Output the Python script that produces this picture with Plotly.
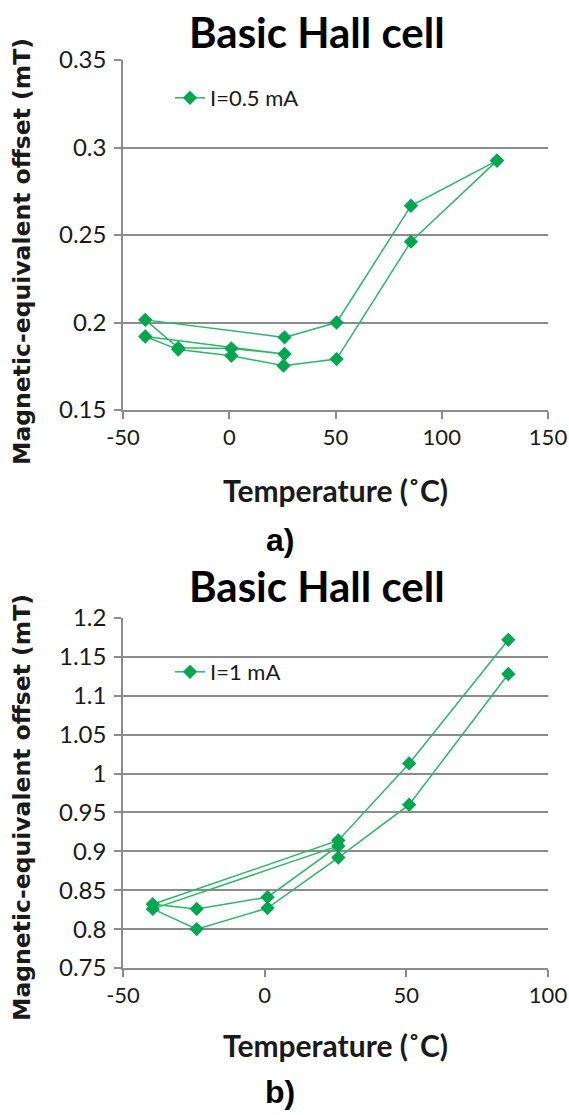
import plotly.graph_objects as go

# browser window size; the page margin is removed so the figure fills it exactly
W, H = 569, 1115

temp_a = [126, 85.5, 50.5, 26, -39.5, -24, 1, 26, -39.5, -24, 1, 25.5, 50.5, 85.5, 126]
offset_a = [0.2925, 0.2667, 0.2, 0.1915, 0.2015, 0.1855, 0.1852, 0.182, 0.192, 0.1845, 0.181, 0.1753, 0.1791, 0.2462, 0.2925]
name_a = "I=0.5 mA"

temp_b = [86, 51, 26, -39.5, -24, 1, 26, -39.5, -24, 1, 26, 51, 86]
offset_b = [1.172, 1.013, 0.914, 0.832, 0.826, 0.841, 0.907, 0.826, 0.800, 0.827, 0.892, 0.960, 1.128]
name_b = "I=1 mA"

xticks_a = [-50, 0, 50, 100, 150]
xlabels_a = ["-50", "0", "50", "100", "150"]
xticks_b = [-50, 0, 50, 100]
xlabels_b = ["-50", "0", "50", "100"]
yticks_a = [0.15, 0.2, 0.25, 0.3, 0.35]
ylabels_a = ["0.15", "0.2", "0.25", "0.3", "0.35"]
yticks_b = [0.75, 0.8, 0.85, 0.9, 0.95, 1.0, 1.05, 1.1, 1.15, 1.2]
ylabels_b = ["0.75", "0.8", "0.85", "0.9", "0.95", "1", "1.05", "1.1", "1.15", "1.2"]

title_text = "Basic Hall cell"
ytitle_text = "Magnetic-equivalent offset (mT)"
xtitle_text = "Temperature (˚C)"

# ---- style ----
LINE = "#2cb766"
MARK = "#00a651"
GRID = "#8c8c8c"
TXT = "#1a1a1a"
FONT = "Lato"


def px(x):
    return x / W


def py(y):
    return (H - y) / H


fig = go.Figure()
fig.add_trace(go.Scatter(
    x=temp_a, y=offset_a, mode="lines+markers", name=name_a,
    xaxis="x", yaxis="y", legend="legend",
    line=dict(color=LINE, width=1.5),
    marker=dict(symbol="diamond", size=11, color=MARK),
))
fig.add_trace(go.Scatter(
    x=temp_b, y=offset_b, mode="lines+markers", name=name_b,
    xaxis="x2", yaxis="y2", legend="legend2",
    line=dict(color=LINE, width=1.5),
    marker=dict(symbol="diamond", size=11, color=MARK),
))

common_x = dict(showgrid=False, zeroline=False, showline=True, linecolor=GRID, linewidth=1.5,
                ticks="outside", ticklen=7, tickwidth=1.5, tickcolor=GRID, automargin=False,
                ticklabeloverflow="allow",
                tickfont=dict(family=FONT, size=22, color=TXT), mirror=False)
common_y = dict(showgrid=True, gridcolor=GRID, gridwidth=1.5, zeroline=False, showline=True,
                linecolor=GRID, linewidth=1.5, ticks="outside", ticklen=7, tickwidth=1.5,
                tickcolor=GRID, tickfont=dict(family=FONT, size=24, color=TXT),
                ticklabelstandoff=3, automargin=False, ticklabeloverflow="allow")

x0, x1 = px(123), px(548)

fig.update_layout(
    template="none",
    width=W, height=H, margin=dict(l=0, r=0, t=0, b=0, pad=0),
    paper_bgcolor="white", plot_bgcolor="white",
    xaxis=dict(domain=[x0, x1], anchor="y", range=[-50, 150], tickvals=xticks_a,
               ticktext=xlabels_a, **common_x),
    yaxis=dict(domain=[py(410), py(60)], anchor="x", range=[0.15, 0.35], tickvals=yticks_a,
               ticktext=ylabels_a, **common_y),
    xaxis2=dict(domain=[x0, x1], anchor="y2", range=[-50, 100], tickvals=xticks_b,
                ticktext=xlabels_b, **common_x),
    yaxis2=dict(domain=[py(968), py(618)], anchor="x2", range=[0.75, 1.2], tickvals=yticks_b,
                ticktext=ylabels_b, **common_y),
    legend=dict(x=px(170), y=py(98), xanchor="left", yanchor="middle",
                bgcolor="rgba(0,0,0,0)", font=dict(family=FONT, size=22, color=TXT)),
    legend2=dict(x=px(170), y=py(672), xanchor="left", yanchor="middle",
                 bgcolor="rgba(0,0,0,0)", font=dict(family=FONT, size=22, color=TXT)),
    showlegend=True,
)

ann = []
for ty, yt_c, xt_y, lab, lab_y in [(32, 252, 490, "a)", 540), (586, 808, 1045, "b)", 1092)]:
    ann.append(dict(text=title_text, x=px(317), y=py(ty), xref="paper", yref="paper",
                    showarrow=False, xanchor="center", yanchor="middle",
                    font=dict(family=FONT, size=42, color="black", weight="bold")))
    ann.append(dict(text=ytitle_text, x=px(22), y=py(yt_c), xref="paper", yref="paper",
                    showarrow=False, xanchor="center", yanchor="middle", textangle=-90,
                    font=dict(family="DejaVu Sans", size=23.5, color=TXT, weight="bold")))
    ann.append(dict(text=xtitle_text, x=px(335), y=py(xt_y), xref="paper", yref="paper",
                    showarrow=False, xanchor="center", yanchor="middle",
                    font=dict(family=FONT, size=30, color=TXT, weight="bold")))
    ann.append(dict(text=lab, x=px(280), y=py(lab_y), xref="paper", yref="paper",
                    showarrow=False, xanchor="center", yanchor="middle",
                    font=dict(family="Liberation Sans", size=32, color="black", weight="bold")))
fig.update_layout(annotations=ann)

fig.write_html(
    "out.html",
    config={"displayModeBar": False},
    post_script=("document.documentElement.style.overflow='hidden';"
                 "document.body.style.margin='0';document.body.style.overflow='hidden';"),
)
